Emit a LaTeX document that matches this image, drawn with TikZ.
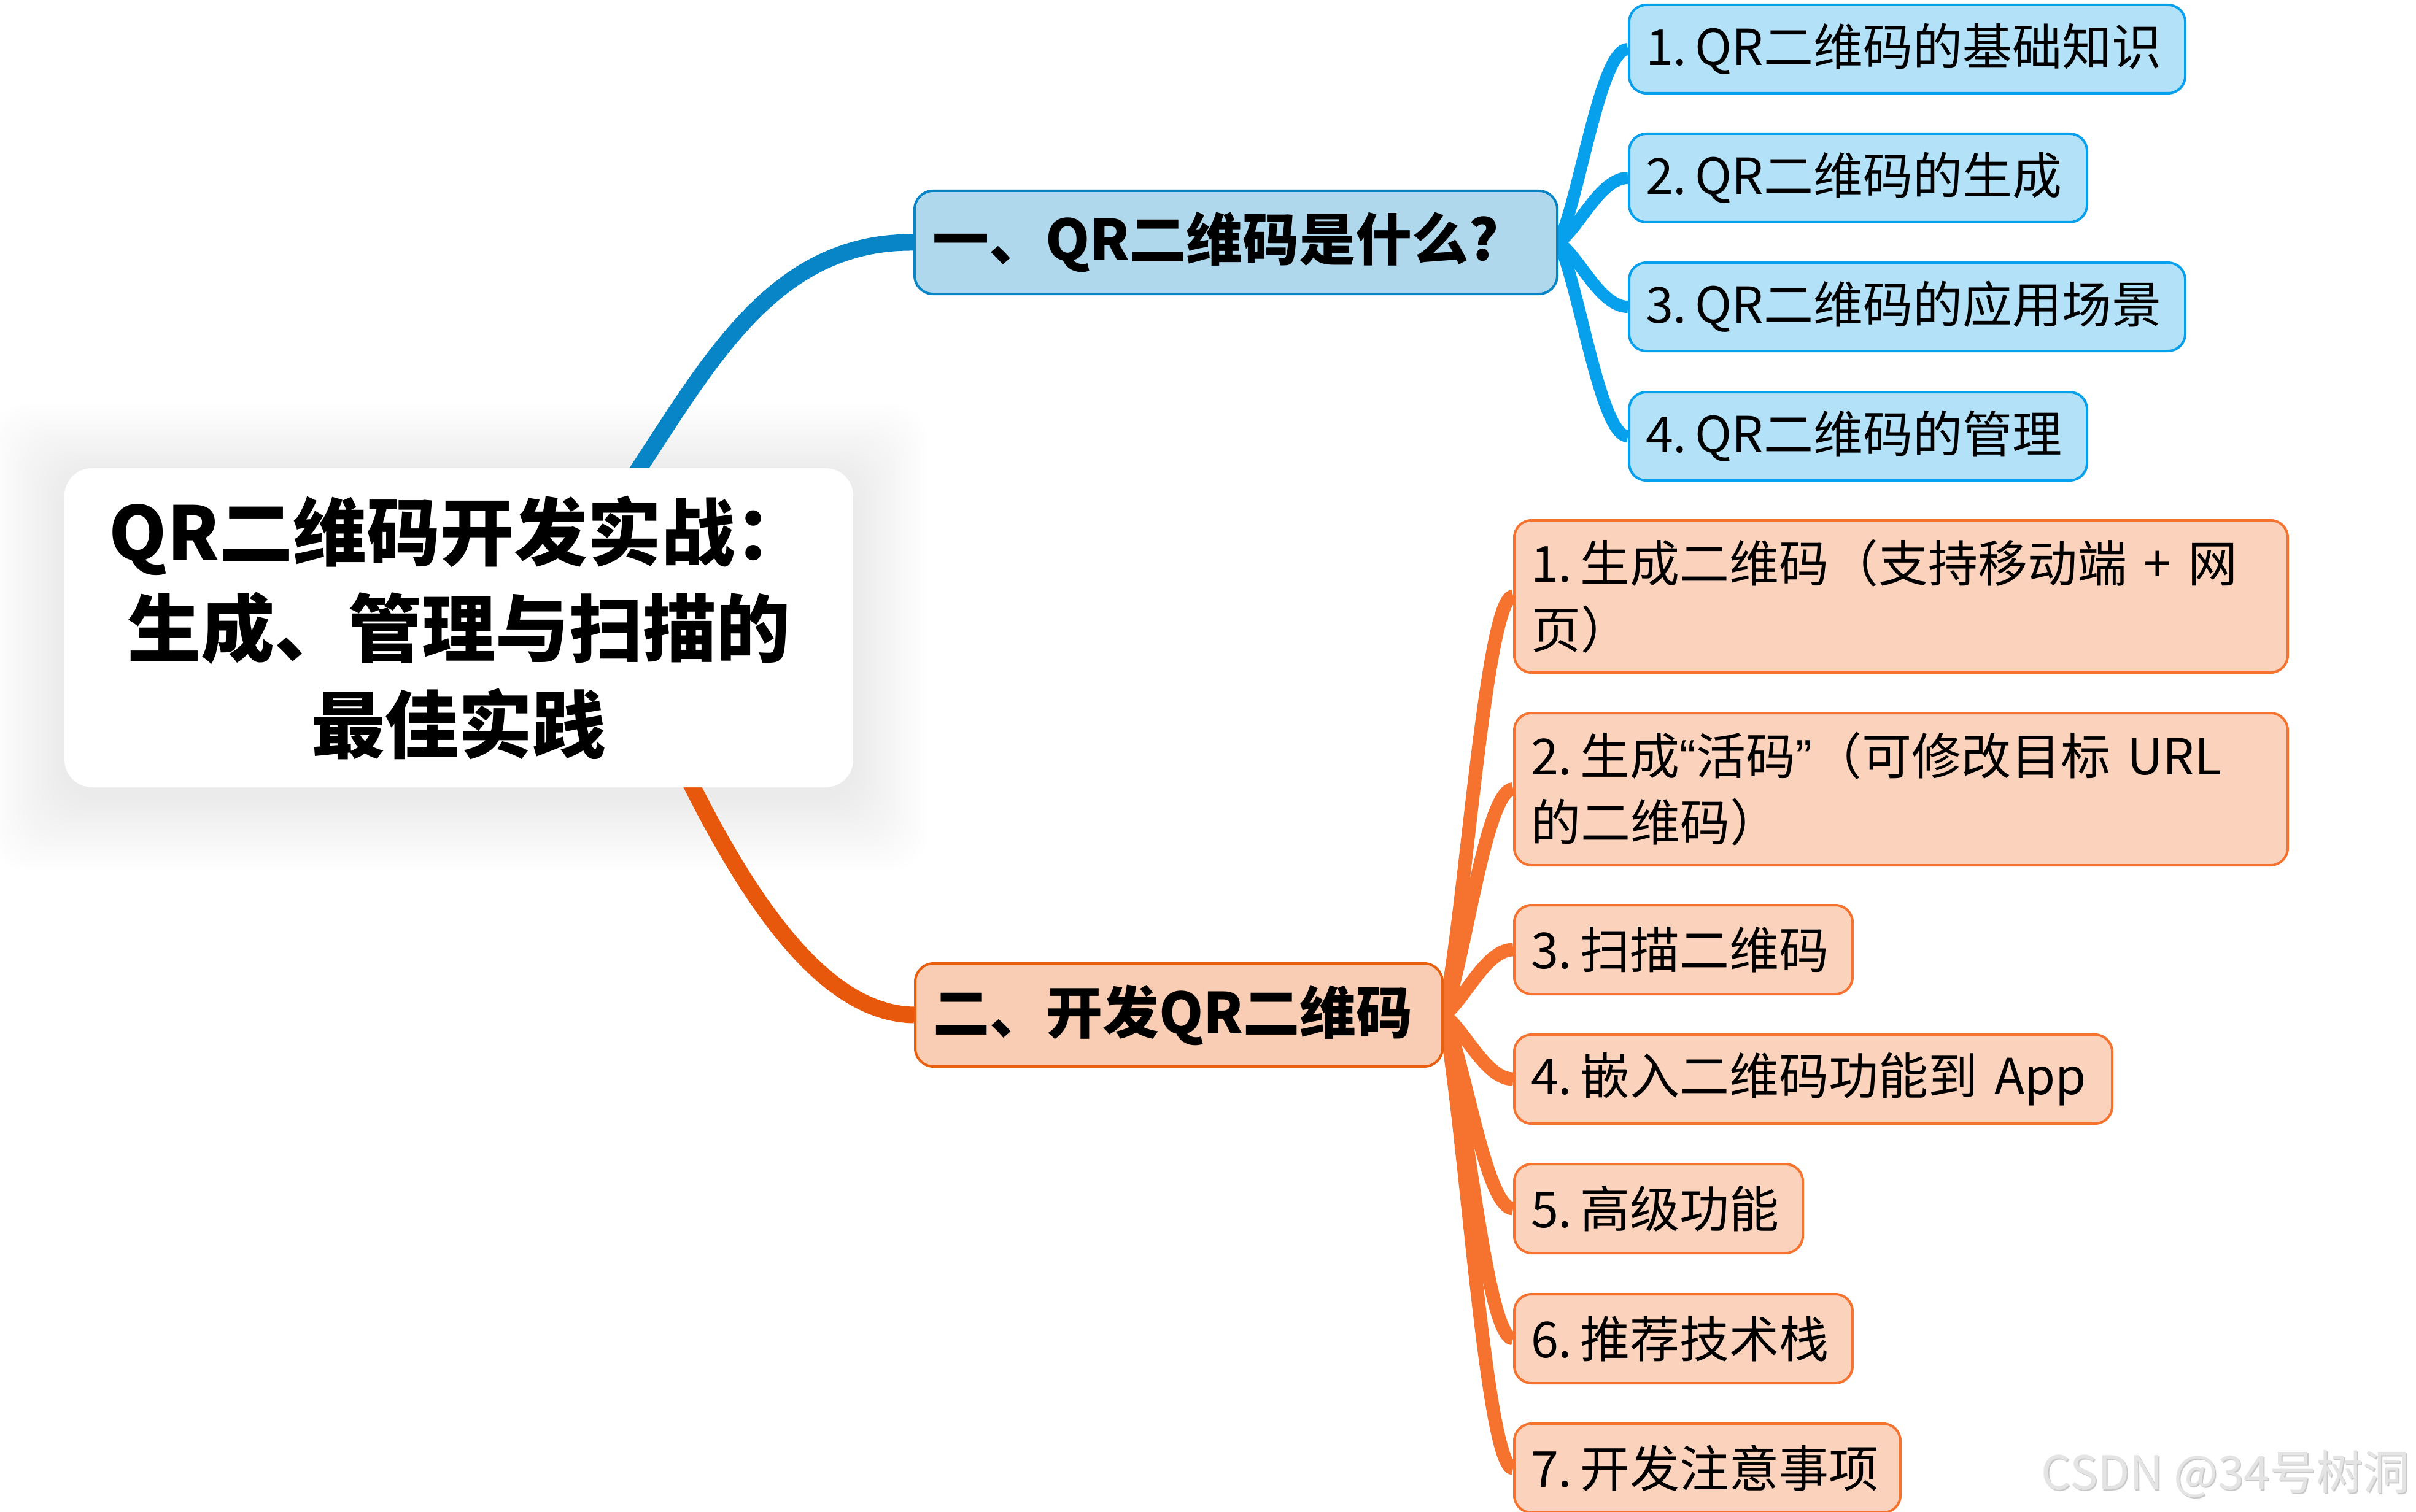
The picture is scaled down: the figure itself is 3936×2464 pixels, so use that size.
\documentclass[tikz,border=0pt]{standalone}
\usepackage{fontspec}
\setmainfont{Noto Sans CJK SC}
\newfontfamily\latinq{Liberation Sans}
\usetikzlibrary{calc}
\pgfdeclarelayer{shadowlayer}
\pgfdeclarelayer{linklayer}
\pgfsetlayers{shadowlayer,linklayer,main}
\definecolor{rootblue}{HTML}{0785C7}
\definecolor{lonefill}{HTML}{B0D8EC}
\definecolor{childblue}{HTML}{06A0EC}
\definecolor{childbluefill}{HTML}{B3E1F8}
\definecolor{rootorange}{HTML}{E8580C}
\definecolor{ltwofill}{HTML}{F8CDB3}
\definecolor{ltwoborder}{HTML}{E8600F}
\definecolor{childorange}{HTML}{F5732F}
\definecolor{childorangefill}{HTML}{FBD3BD}
\definecolor{wmlight}{HTML}{E4E4E4}
\definecolor{wmdark}{HTML}{C9C9C9}
\newcommand\nsp{\hspace{13pt}}
\tikzset{
  rootbox/.style={fill=white, rounded corners=45pt, align=center, inner sep=0pt,
    minimum width=1285pt, minimum height=520pt,
    font=\fontsize{120}{157}\selectfont\bfseries},
  lvlone/.style={line width=4pt, rounded corners=30pt, anchor=north west,
    inner xsep=29pt, inner ysep=0pt, minimum height=168pt, align=left,
    font=\fontsize{92}{110}\selectfont\bfseries},
  bluetop/.style={lvlone, draw=rootblue, fill=lonefill},
  orangetop/.style={lvlone, draw=ltwoborder, fill=ltwofill},
  leafbox/.style={line width=4pt, rounded corners=28pt, anchor=north west,
    inner xsep=27pt, inner ysep=0pt, align=left,
    font=\fontsize{81}{108}\selectfont},
  blueleaf/.style={leafbox, draw=childblue, fill=childbluefill, minimum height=144pt},
  orangeleaf/.style={leafbox, draw=childorange, fill=childorangefill, minimum height=145pt},
  mainlink/.style={line width=27pt, line join=round},
  bluelink/.style={draw=childblue, line width=20pt},
  orangelink/.style={draw=childorange, line width=22pt},
  wmtext/.style={anchor=base east, inner sep=0pt, font=\fontsize{76}{80}\selectfont},
}
\newcommand\mmlink[3]{%
  \draw[#1] let \p1=(#2.east), \p2=(#3.west) in
    (\p1) .. controls ({\x1+0.3*(\x2-\x1)},{\y1+0.22*(\y2-\y1)})
              and ({\x2-0.4*(\x2-\x1)},\y2) .. (\p2);}
\begin{document}
\begin{tikzpicture}[x=1pt, y=-1pt]
\useasboundingbox (0,0) rectangle (3936,2464);

% root
\node[rootbox] (root) at (747.5,1023) {QR二维码开发实战：\\生成、管理与扫描的\\最佳实践};

% level one
\node[bluetop, text width=989pt] (a) at (1488,309) {\mbox{一、QR二维码是什么?}};
\node[orangetop, text width=801pt] (b) at (1489,1568) {\mbox{二、开发QR二维码}};

% blue leaves
\node[blueleaf, text width=852pt] (a1) at (2652,6)   {\mbox{1.\nsp QR二维码的基础知识}};
\node[blueleaf, text width=692pt] (a2) at (2652,216) {\mbox{2.\nsp QR二维码的生成}};
\node[blueleaf, text width=852pt] (a3) at (2652,426) {\mbox{3.\nsp QR二维码的应用场景}};
\node[blueleaf, text width=692pt] (a4) at (2652,637) {\mbox{4.\nsp QR二维码的管理}};

% orange leaves
\node[orangeleaf, text width=1206pt, minimum height=248pt] (b1) at (2465,846)
  {\mbox{1.\nsp 生成二维码（支持移动端 + 网}\\\mbox{页）}};
\node[orangeleaf, text width=1206pt, minimum height=248pt] (b2) at (2465,1160)
  {\mbox{2.\nsp 生成{\latinq “}活码{\latinq ”}（可修改目标 URL}\\\mbox{的二维码）}};
\node[orangeleaf, text width=497pt] (b3) at (2465,1473) {\mbox{3.\nsp 扫描二维码}};
\node[orangeleaf, text width=920pt] (b4) at (2465,1684) {\mbox{4.\nsp 嵌入二维码功能到 App}};
\node[orangeleaf, text width=416pt] (b5) at (2465,1895) {\mbox{5.\nsp 高级功能}};
\node[orangeleaf, text width=497pt] (b6) at (2465,2107) {\mbox{6.\nsp 推荐技术栈}};
\node[orangeleaf, text width=575pt] (b7) at (2465,2318) {\mbox{7.\nsp 开发注意事项}};

% watermark
\node[wmtext, text=wmdark] (wmshade) at (3928,2429) {CSDN @34号树洞};
\node[wmtext, text=wmlight] (wm) at (3926,2427) {CSDN @34号树洞};

\begin{pgfonlayer}{shadowlayer}
  \fill[white] (0,0) rectangle (3936,2464);
  \foreach \i in {1,...,20} {
    \fill[black, opacity=0.0035, rounded corners=60pt]
      ($(root.north west)+(-\i*6,-\i*6+15)$) rectangle ($(root.south east)+(\i*6,\i*6+15)$);
  }
\end{pgfonlayer}

\begin{pgfonlayer}{linklayer}
  \draw[mainlink, rootblue] (root.center) -- (987,846) -- (1042,762)
     .. controls (1163,577) and (1268,393) .. (a.west);
  \draw[mainlink, rootorange] (root.center) -- (1101,1229) -- (1128,1282)
     .. controls (1240,1504) and (1357,1652) .. (b.west);
  \foreach \c in {a1,a2,a3,a4} { \mmlink{bluelink}{a}{\c} }
  \foreach \c in {b1,b2,b3,b4,b5,b6,b7} { \mmlink{orangelink}{b}{\c} }
\end{pgfonlayer}
\end{tikzpicture}
\end{document}
